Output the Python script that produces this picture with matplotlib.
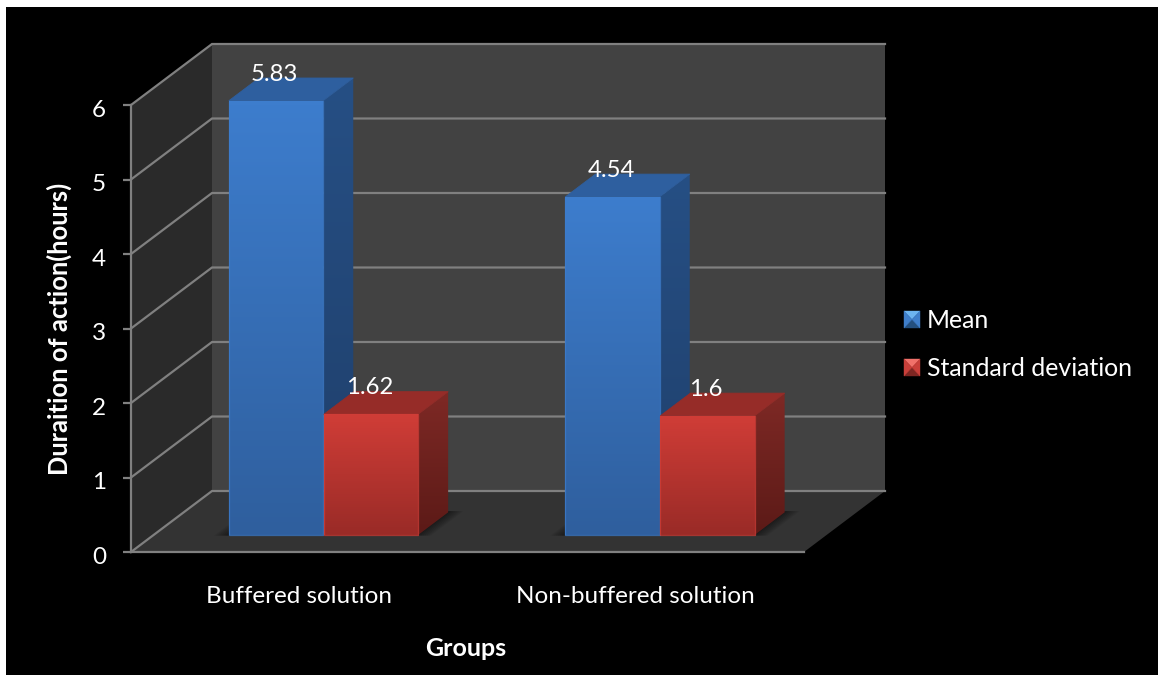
"""Pseudo-3D clustered column chart: duration of action per solution group."""

import numpy as np
import matplotlib
matplotlib.use("Agg")
import matplotlib.pyplot as plt
from matplotlib.colors import LinearSegmentedColormap
from matplotlib.patches import Polygon, Rectangle
from matplotlib.transforms import ScaledTranslation

plt.rcParams["font.family"] = ["Lato", "DejaVu Sans"]

GROUPS = ["Buffered solution", "Non-buffered solution"]
SERIES = ["Mean", "Standard deviation"]
MEAN = [5.83, 4.54]
STD_DEV = [1.62, 1.6]
MEAN_LABELS = ["5.83", "4.54"]
STD_LABELS = ["1.62", "1.6"]
Y_TICKS = [0, 1, 2, 3, 4, 5, 6]

W, H = 1158, 675

# Colours: (front top, front bottom, side top, side bottom, top face)
BLUE = ("#3d7dcd", "#2f5f9e", "#264f84", "#1f3f6b", "#2e5f9f")
RED = ("#d03d37", "#9a2b27", "#7e2925", "#5c1a17", "#962c28")
GRID = "#808080"
BACK_WALL = "#424242"
SIDE_WALL = "#2a2a2a"
FLOOR = "#333333"

# Axes span the front plane of the box, depth is drawn as a shear
X0, X1, Y_BOTTOM, Y_TOP = 131, 804, 552, 105
DX = 81 / (X1 - X0) * 2          # shift in x data units for full depth
DY = 61 / (Y_BOTTOM - Y_TOP) * 6  # shift in y data units for full depth
BAR_W = 0.28
D_FRONT, D_BACK = 0.279, 0.65


def proj(x, y, d):
    """Category/value/depth to sheared data coordinates."""
    return x + d * DX, y + d * DY


def gradient_face(ax, verts, top, bottom, zorder):
    """Fill a polygon with a vertical gradient."""
    verts = np.asarray(verts)
    cmap = LinearSegmentedColormap.from_list("face", [top, bottom])
    extent = (verts[:, 0].min(), verts[:, 0].max(), verts[:, 1].min(), verts[:, 1].max())
    im = ax.imshow(np.linspace(0, 1, 64)[:, None], cmap=cmap, extent=extent,
                   aspect="auto", origin="upper", zorder=zorder, interpolation="bilinear")
    poly = Polygon(verts, closed=True, transform=ax.transData, fill=False, edgecolor="none")
    # images clip to the axes box by default, columns rise above it with depth
    im.set_clip_box(ax.figure.bbox)
    im.set_clip_path(poly)


def draw_bar(ax, x, value, colors, zorder):
    fl, fr = x, x + BAR_W
    front = [proj(fl, 0, D_FRONT), proj(fr, 0, D_FRONT), proj(fr, value, D_FRONT), proj(fl, value, D_FRONT)]
    side = [proj(fr, 0, D_FRONT), proj(fr, 0, D_BACK), proj(fr, value, D_BACK), proj(fr, value, D_FRONT)]
    top = [proj(fl, value, D_FRONT), proj(fr, value, D_FRONT), proj(fr, value, D_BACK), proj(fl, value, D_BACK)]
    gradient_face(ax, side, colors[2], colors[3], zorder)
    ax.add_patch(Polygon(top, closed=True, fc=colors[4], ec=colors[4], lw=0.6,
                         joinstyle="round", zorder=zorder + 0.1, clip_on=False))
    gradient_face(ax, front, colors[0], colors[1], zorder + 0.2)
    # thin lit edge along the front face
    ax.add_patch(Polygon(front, closed=True, fill=False, ec=colors[0], lw=0.9, alpha=0.75,
                         joinstyle="round", zorder=zorder + 0.3, clip_on=False))


def floor_shadow(ax, left, right, zorder):
    """Soft shadow on the floor around a cluster of columns."""
    for k in range(1, 8):
        pad = 0.006 * k
        verts = [proj(left - pad, 0, D_FRONT - 0.01), proj(right + pad, 0, D_FRONT - 0.01),
                 proj(right + pad, 0, D_BACK + 0.02), proj(left - pad, 0, D_BACK + 0.02)]
        ax.add_patch(Polygon(verts, closed=True, fc="black", ec="none", alpha=0.07,
                             zorder=zorder, clip_on=False))


def legend_swatch(fig, x, y, size_x, size_y, base):
    """Small bevelled square used as a legend key."""
    x0, x1 = x / W, (x + size_x) / W
    y1, y0 = 1 - y / H, 1 - (y + size_y) / H
    cx, cy = (x0 + x1) / 2, (y0 + y1) / 2
    tris = [
        ([(x0, y1), (x1, y1), (cx, cy)], base[0]),
        ([(x0, y0), (x1, y0), (cx, cy)], base[3]),
        ([(x0, y0), (x0, y1), (cx, cy)], base[1]),
        ([(x1, y0), (x1, y1), (cx, cy)], base[2]),
    ]
    for pts, col in tris:
        fig.add_artist(Polygon(pts, closed=True, fc=col, ec=col, lw=0.3,
                               transform=fig.transFigure))


fig = plt.figure(figsize=(W / 100, H / 100), dpi=100, facecolor="white")
fig.add_artist(Rectangle((6 / W, 0), 1 - 6 / W, 1 - 7 / H, fc="black", ec="none",
                         transform=fig.transFigure, zorder=-1))

ax = fig.add_axes([X0 / W, 1 - Y_BOTTOM / H, (X1 - X0) / W, (Y_BOTTOM - Y_TOP) / H])
ax.patch.set_visible(False)

# Box walls
wall_kw = dict(closed=True, ec="none", clip_on=False, zorder=1)
ax.add_patch(Polygon([proj(0, 0, 1), proj(2, 0, 1), proj(2, 6, 1), proj(0, 6, 1)], fc=BACK_WALL, **wall_kw))
ax.add_patch(Polygon([proj(0, 0, 0), proj(0, 0, 1), proj(0, 6, 1), proj(0, 6, 0)], fc=SIDE_WALL, **wall_kw))
ax.add_patch(Polygon([proj(0, 0, 0), proj(2, 0, 0), proj(2, 0, 1), proj(0, 0, 1)], fc=FLOOR, **wall_kw))

# Gridlines run along the side wall and across the back wall
for tick in Y_TICKS:
    xs, ys = zip(proj(0, tick, 0), proj(0, tick, 1), proj(2, tick, 1))
    ax.plot(xs, ys, color=GRID, lw=1.6, zorder=2, clip_on=False, solid_joinstyle="miter")

# Columns, left to right so that nearer faces overlap correctly
z = 4
for i in range(len(GROUPS)):
    left = i + 0.224
    floor_shadow(ax, left, left + 2 * BAR_W, 3)
    draw_bar(ax, left, MEAN[i], BLUE, z)
    draw_bar(ax, left + BAR_W + 0.002, STD_DEV[i], RED, z + 1)
    z += 2

    # Value labels sit above the front top edge of each column
    for xb, val, lab in [(left, MEAN[i], MEAN_LABELS[i]),
                         (left + BAR_W + 0.002, STD_DEV[i], STD_LABELS[i])]:
        xc, yc = proj(xb + BAR_W / 2, val, D_FRONT)
        ax.annotate(lab, (xc, yc), xytext=(-1, 19), textcoords="offset points",
                    ha="center", va="center", color="white", fontsize=17.2,
                    zorder=20, annotation_clip=False)

ax.set_xlim(0, 2)
ax.set_ylim(0, 6)
ax.set_yticks(Y_TICKS)
ax.set_xticks([0.5, 1.5])
ax.set_xticklabels(GROUPS)
ax.tick_params(axis="y", colors=GRID, labelcolor="white", labelsize=17.5, length=6, width=1.6, pad=12)
ax.tick_params(axis="x", colors=GRID, labelcolor="white", labelsize=17.5, length=0, pad=24.5)

# digits sit slightly below their tick marks
label_shift = ScaledTranslation(0, -2.5 / 72, fig.dpi_scale_trans)
for label in ax.get_yticklabels():
    label.set_transform(label.get_transform() + label_shift)

for name in ("top", "right"):
    ax.spines[name].set_visible(False)
for name in ("left", "bottom"):
    ax.spines[name].set_color(GRID)
    ax.spines[name].set_linewidth(1.6)
    ax.spines[name].set_zorder(30)

ax.set_xlabel("Groups", color="white", fontsize=18, fontweight="bold", va="center")
ax.xaxis.set_label_coords((466 - X0) / (X1 - X0), (Y_BOTTOM - 649) / (Y_BOTTOM - Y_TOP))
ax.set_ylabel("Duraition of action(hours)", color="white", fontsize=18.4, fontweight="bold", va="center")
ax.yaxis.set_label_coords((59 - X0) / (X1 - X0), (Y_BOTTOM - 329) / (Y_BOTTOM - Y_TOP))

# Legend keys and labels
legend_swatch(fig, 904, 311, 16, 17, ("#6cb4f0", "#3f7fcb", "#3f7fcb", "#24507f"))
legend_swatch(fig, 904, 359, 16, 17, ("#f0716a", "#c93f3a", "#c93f3a", "#7d2622"))
fig.text(927 / W, 1 - 321 / H, SERIES[0], color="white", fontsize=17.9, va="center", ha="left")
fig.text(927 / W, 1 - 369 / H, SERIES[1], color="white", fontsize=17.9, va="center", ha="left")

fig.savefig("out.png", dpi=100, facecolor=fig.get_facecolor())
